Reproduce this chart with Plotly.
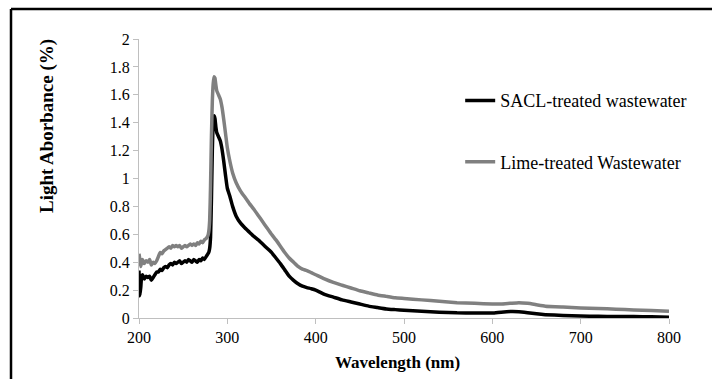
import plotly.graph_objects as go

# ---- data ----
sacl_wl = [200, 201, 202, 203, 204, 206, 208, 210, 212, 214, 216, 218, 220, 222, 224, 226, 228, 230,
           232, 234, 236, 238, 240, 242, 244, 246, 248, 250, 252, 254, 256, 258, 260, 262, 264, 266,
           268, 270, 272, 274, 276, 278, 279, 280, 281, 282, 283, 284, 285, 286, 287, 288, 290, 292,
           294, 296, 298, 300, 303, 306, 310, 315, 320, 325, 330, 335, 340, 345, 350, 355, 360, 365,
           370, 375, 380, 385, 390, 395, 400, 405, 410, 420, 430, 440, 450, 460, 470, 480, 490, 500,
           520, 540, 560, 580, 600, 610, 620, 630, 640, 650, 660, 680, 700, 720, 740, 760, 780, 800]
sacl_abs = [0.34, 0.16, 0.22, 0.30, 0.31, 0.28, 0.30, 0.29, 0.30, 0.27, 0.29, 0.31, 0.33, 0.33, 0.35,
            0.34, 0.36, 0.37, 0.36, 0.38, 0.39, 0.38, 0.40, 0.39, 0.40, 0.41, 0.39, 0.40, 0.41, 0.40,
            0.42, 0.41, 0.40, 0.42, 0.41, 0.40, 0.42, 0.41, 0.43, 0.42, 0.44, 0.46, 0.47, 0.50, 0.58,
            0.85, 1.20, 1.40, 1.45, 1.43, 1.37, 1.33, 1.30, 1.27, 1.21, 1.12, 1.02, 0.93, 0.87, 0.80,
            0.73, 0.68, 0.645, 0.615, 0.585, 0.56, 0.53, 0.50, 0.47, 0.43, 0.39, 0.345, 0.30, 0.27, 0.245,
            0.228, 0.218, 0.21, 0.20, 0.185, 0.17, 0.15, 0.13, 0.115, 0.10, 0.085, 0.075, 0.065, 0.06,
            0.055, 0.048, 0.042, 0.037, 0.036, 0.036, 0.042, 0.046, 0.045, 0.038, 0.030, 0.024, 0.018,
            0.014, 0.012, 0.011, 0.010, 0.009, 0.006]

lime_wl = [200, 201, 202, 203, 204, 206, 208, 210, 212, 214, 216, 218, 220, 222, 224, 226, 228, 230,
           232, 234, 236, 238, 240, 242, 244, 246, 248, 250, 252, 254, 256, 258, 260, 262, 264, 266,
           268, 270, 272, 274, 276, 278, 279, 280, 281, 282, 283, 284, 285, 286, 287, 288, 290, 292,
           294, 296, 298, 300, 303, 306, 310, 315, 320, 325, 330, 335, 340, 345, 350, 355, 360, 365,
           370, 375, 380, 385, 390, 395, 400, 410, 420, 430, 440, 450, 460, 470, 480, 490, 500,
           520, 540, 560, 580, 600, 610, 620, 630, 640, 650, 660, 680, 700, 720, 740, 760, 780, 800]
lime_abs = [0.46, 0.42, 0.37, 0.40, 0.42, 0.39, 0.41, 0.40, 0.42, 0.38, 0.40, 0.39, 0.41, 0.44, 0.47,
            0.46, 0.48, 0.49, 0.50, 0.51, 0.50, 0.52, 0.51, 0.52, 0.51, 0.52, 0.50, 0.51, 0.52, 0.51,
            0.52, 0.53, 0.52, 0.53, 0.52, 0.54, 0.53, 0.55, 0.54, 0.56, 0.57, 0.59, 0.62, 0.70, 0.95,
            1.30, 1.55, 1.68, 1.73, 1.72, 1.67, 1.63, 1.60, 1.57, 1.51, 1.42, 1.32, 1.22, 1.12, 1.04,
            0.97, 0.91, 0.865, 0.82, 0.78, 0.735, 0.69, 0.645, 0.60, 0.56, 0.515, 0.47, 0.43, 0.40, 0.37,
            0.35, 0.34, 0.325, 0.31, 0.28, 0.255, 0.235, 0.215, 0.195, 0.18, 0.165, 0.155, 0.145, 0.14,
            0.13, 0.12, 0.11, 0.105, 0.10, 0.10, 0.105, 0.11, 0.105, 0.095, 0.085, 0.078, 0.072, 0.068,
            0.063, 0.058, 0.054, 0.048]

x_ticks = [200, 300, 400, 500, 600, 700, 800]
y_ticks = [0, 0.2, 0.4, 0.6, 0.8, 1, 1.2, 1.4, 1.6, 1.8, 2]
y_tick_text = ["0", "0.2", "0.4", "0.6", "0.8", "1", "1.2", "1.4", "1.6", "1.8", "2"]

SERIF = "Liberation Serif"

fig = go.Figure()
fig.add_trace(go.Scatter(x=sacl_wl, y=sacl_abs, mode="lines", name="SACL-treated wastewater",
                         legendgroup="a", line=dict(color="#000000", width=3.5, shape="spline", smoothing=0.4)))
fig.add_trace(go.Scatter(x=lime_wl, y=lime_abs, mode="lines", name="Lime-treated Wastewater",
                         legendgroup="b", line=dict(color="#808080", width=3.5, shape="spline", smoothing=0.4)))

axis_common = dict(showline=True, linecolor="#bfbfbf", linewidth=1, ticks="outside",
                   tickcolor="#bfbfbf", ticklen=5, showgrid=False, zeroline=False,
                   tickfont=dict(family=SERIF, size=16, color="#000000"))

fig.update_layout(
    width=712, height=379,
    margin=dict(l=139, r=43, t=39, b=61),
    paper_bgcolor="white", plot_bgcolor="white",
    font=dict(family=SERIF, color="#000"),
    xaxis=dict(range=[200, 800], tickvals=x_ticks, **axis_common),
    yaxis=dict(range=[0, 2], tickvals=y_ticks, ticktext=y_tick_text, **axis_common),
    legend=dict(x=0.606, y=0.845, xanchor="left", yanchor="top", bgcolor="rgba(0,0,0,0)",
                font=dict(family=SERIF, size=18, color="#000"), tracegroupgap=35),
    annotations=[
        dict(text="<b>Wavelength (nm)</b>", xref="paper", yref="paper", x=0.487, y=-0.161,
             xanchor="center", yanchor="middle", showarrow=False,
             font=dict(family=SERIF, size=17, color="#000")),
        dict(text="<b>Light Aborbance (%)</b>", xref="paper", yref="paper", x=-0.1736, y=0.688,
             xanchor="center", yanchor="middle", textangle=-90, showarrow=False,
             font=dict(family=SERIF, size=19, color="#000")),
    ],
    shapes=[
        dict(type="line", xref="paper", yref="paper", x0=-0.2415, x1=-0.2415, y0=-1, y1=1.1075,
             line=dict(color="#000", width=2.5)),
        dict(type="line", xref="paper", yref="paper", x0=-0.2415, x1=2, y0=1.1075, y1=1.1075,
             line=dict(color="#000", width=2.5)),
    ],
)

fig.write_html("out.html")
